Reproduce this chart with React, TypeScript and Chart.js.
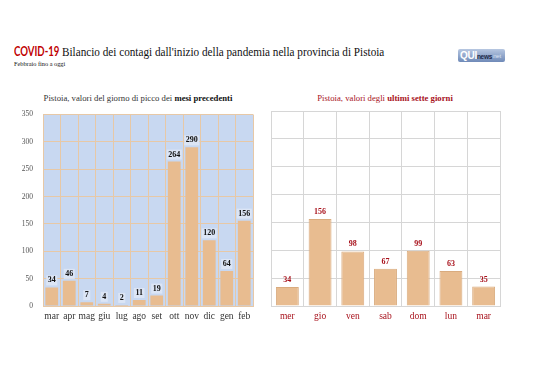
import React, { useEffect, useRef } from "react";
import { Chart, registerables } from "chart.js";
Chart.register(...registerables);

const monthLabels = ["mar", "apr", "mag", "giu", "lug", "ago", "set", "ott", "nov", "dic", "gen", "feb"];
const monthValues = [34, 46, 7, 4, 2, 11, 19, 264, 290, 120, 64, 156];
const dayLabels = ["mer", "gio", "ven", "sab", "dom", "lun", "mar"];
const dayValues = [34, 156, 98, 67, 99, 63, 35];
const yMax = 350;
const yStep = 50;

const SERIF = "'Liberation Serif', 'Times New Roman', serif";
const RED = "#a8121c";
const BAR = "#e8bc90";

const valueLabels = {
  id: "valueLabels",
  afterDatasetsDraw(chart: any, _args: any, opts: any) {
    const ctx = chart.ctx;
    const meta = chart.getDatasetMeta(0);
    const data = chart.data.datasets[0].data;
    ctx.save();
    ctx.font = opts.font;
    ctx.textAlign = "center";
    ctx.textBaseline = "middle";
    meta.data.forEach((bar: any, i: number) => {
      const t = String(data[i]);
      const y = bar.y - opts.offset;
      if (opts.bg) {
        const w = ctx.measureText(t).width;
        ctx.fillStyle = opts.bg;
        ctx.fillRect(bar.x - w / 2 - 1.5, y - 5, w + 3, 10);
      }
      ctx.fillStyle = opts.color;
      ctx.fillText(t, bar.x, y);
    });
    ctx.restore();
  },
};

const plotBg = {
  id: "plotBg",
  beforeDraw(chart: any, _args: any, opts: any) {
    if (!opts.color) return;
    const { ctx, chartArea } = chart;
    ctx.save();
    ctx.fillStyle = opts.color;
    ctx.fillRect(chartArea.left, chartArea.top, chartArea.right - chartArea.left, chartArea.bottom - chartArea.top);
    ctx.restore();
  },
};

function makeConfig(labels: string[], values: number[], left: boolean): any {
  const gridColor = left ? "#e7c8a6" : "#d6d6d6";
  return {
    type: "bar",
    data: {
      labels,
      datasets: [
        {
          data: values,
          backgroundColor: BAR,
          borderColor: left ? BAR : "#d9ab7e",
          borderWidth: left ? 0 : 1,
          barPercentage: left ? 0.73 : 0.7,
          categoryPercentage: 1,
        },
      ],
    },
    plugins: [plotBg, valueLabels],
    options: {
      responsive: false,
      animation: false,
      layout: {
        padding: left ? { left: 0, right: 9, top: 12, bottom: 6 } : { left: 9, right: 38, top: 11, bottom: 6 },
      },
      plugins: {
        legend: { display: false },
        tooltip: { enabled: false },
        title: { display: false },
        plotBg: { color: left ? "#c8d8f1" : null },
        valueLabels: {
          font: `bold 8px ${SERIF}`,
          color: left ? "#111" : RED,
          bg: left ? "#dce5f5" : null,
          offset: 7,
        },
      },
      scales: {
        x: {
          grid: { color: gridColor, drawTicks: false, offset: true, lineWidth: 1 },
          border: { color: gridColor },
          ticks: {
            color: left ? "#333" : RED,
            font: { family: SERIF, size: 9.5 },
            padding: 5,
            maxRotation: 0,
            autoSkip: false,
          },
          afterFit: (s: any) => {
            s.height = 18;
          },
        },
        y: {
          min: 0,
          max: yMax,
          grid: { color: gridColor, drawTicks: false, lineWidth: 1 },
          border: { color: gridColor },
          ticks: {
            display: left,
            stepSize: yStep,
            color: "#555",
            font: { family: SERIF, size: 7.5 },
            padding: 10,
          },
          afterFit: (s: any) => {
            s.width = left ? 43 : 0;
          },
        },
      },
    },
  };
}

function BarChart({ labels, values, left, style }: any) {
  const ref = useRef<HTMLCanvasElement>(null);
  useEffect(() => {
    const chart = new Chart(ref.current as HTMLCanvasElement, makeConfig(labels, values, left));
    return () => chart.destroy();
  }, []);
  return <canvas ref={ref} width={style.width} height={style.height} style={{ position: "absolute", ...style }} />;
}

export default function App() {
  return (
    <div
      style={{
        position: "absolute",
        left: 0,
        top: 0,
        width: 538,
        height: 380,
        background: "#fff",
        overflow: "hidden",
        fontFamily: SERIF,
      }}
    >
      <div style={{ position: "absolute", left: 14, top: 45, whiteSpace: "nowrap", fontSize: 12.5, lineHeight: "14px", color: "#111" }}>
        <span
          style={{
            display: "inline-block",
            fontFamily: "Lato, 'Open Sans', sans-serif",
            fontWeight: 700,
            color: "#c00000",
            transform: "scaleX(0.77)",
            transformOrigin: "left center",
          }}
        >
          COVID-19
        </span>
        <span
          style={{
            position: "absolute",
            left: 48,
            top: 0,
            display: "inline-block",
            transform: "scaleX(0.895)",
            transformOrigin: "left center",
          }}
        >
          Bilancio dei contagi dall'inizio della pandemia nella provincia di Pistoia
        </span>
      </div>
      <div style={{ position: "absolute", left: 14, top: 59.5, whiteSpace: "nowrap", fontSize: 6.3, lineHeight: "8px", color: "#111" }}>
        Febbraio fino a oggi
      </div>
      <div
        style={{
          position: "absolute",
          left: 458,
          top: 49,
          width: 47,
          height: 13,
          background: "linear-gradient(#b7c7e1, #6f8ab8)",
          borderRadius: 2,
          fontFamily: "'Liberation Sans', Arial, sans-serif",
          whiteSpace: "nowrap",
          overflow: "hidden",
          display: "flex",
          alignItems: "center",
          letterSpacing: -0.3,
        }}
      >
        <span style={{ color: "#fff", fontWeight: 700, fontSize: 10, lineHeight: "13px", marginLeft: 2 }}>QUI</span>
        <span style={{ color: "#1d2a48", fontWeight: 700, fontSize: 6.5, lineHeight: "13px", marginTop: 2 }}>news</span>
        <span style={{ color: "#dbe4f2", fontSize: 6, lineHeight: "13px", marginTop: 2 }}>.net</span>
      </div>
      <div style={{ position: "absolute", left: 0, width: 276, top: 93, textAlign: "center", fontSize: 8.7, lineHeight: "10px", color: "#333", whiteSpace: "nowrap" }}>
        Pistoia, valori del giorno di picco dei <b style={{ color: "#111" }}>mesi precedenti</b>
      </div>
      <div style={{ position: "absolute", left: 284, width: 202, top: 93, textAlign: "center", fontSize: 8.7, lineHeight: "10px", color: RED, whiteSpace: "nowrap" }}>
        Pistoia, valori degli <b>ultimi sette giorni</b>
      </div>
      <BarChart labels={monthLabels} values={monthValues} left={true} style={{ left: 0, top: 100, width: 262, height: 230 }} />
      <BarChart labels={dayLabels} values={dayValues} left={false} style={{ left: 262, top: 100, width: 276, height: 230 }} />
    </div>
  );
}
